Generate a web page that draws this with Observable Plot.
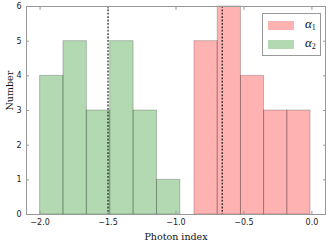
<!DOCTYPE html>
<html>
<head>
<meta charset="utf-8">
<script src="https://cdn.jsdelivr.net/npm/d3@7"></script>
<script src="https://cdn.jsdelivr.net/npm/@observablehq/plot@0.6"></script>
<style>
  body { margin: 0; background: #fff; }
  #wrap { position: relative; width: 330px; height: 245px; }
  #legend { position: absolute; left: 262px; top: 13px; width: 59px; height: 43px; border: 1px solid #999; background: #fff; box-sizing: border-box; font-family: "Liberation Serif", serif; }
  .row { position: absolute; left: 5px; display: flex; align-items: center; }
  .sw { width: 26px; height: 9px; }
  .lab { margin-left: 11px; font-style: italic; font-size: 13px; line-height: 9px; color: #111; }
  .lab sub { font-style: normal; font-size: 8px; vertical-align: -2px; }
</style>
</head>
<body>
<div id="wrap"></div>
<script>
const alpha1Edges = [-0.864, -0.693, -0.522, -0.352, -0.181, -0.01];
const alpha1Counts = [5, 6, 4, 3, 3];
const alpha2Edges = [-2.0, -1.828, -1.656, -1.484, -1.312, -1.140, -0.968];
const alpha2Counts = [4, 5, 3, 5, 3, 1];
const medians = [-1.5, -0.66];
const xTicks = [-2.0, -1.5, -1.0, -0.5, 0.0];
const yTicks = [0, 1, 2, 3, 4, 5, 6];
const seriesNames = ["α1", "α2"];

const bins = (edges, counts, s) => counts.map((c, i) => ({x1: edges[i], x2: edges[i + 1], y: c, s}));
const data = [...bins(alpha2Edges, alpha2Counts, "α2"), ...bins(alpha1Edges, alpha1Counts, "α1")];
const fmt = d => (d < 0 ? "\u2212" : "") + Math.abs(d).toFixed(1);

const chart = Plot.plot({
  width: 330, height: 245,
  marginLeft: 26, marginRight: 5, marginTop: 6, marginBottom: 31,
  style: {fontFamily: "DejaVu Sans, sans-serif", fontSize: "8px", color: "#222", background: "white"},
  x: {domain: [-2.1, 0.1]},
  y: {domain: [0, 6]},
  color: {domain: seriesNames, range: ["red", "green"]},
  marks: [
    Plot.rectY(data, {x1: "x1", x2: "x2", y: "y", fill: "s", fillOpacity: 0.3, stroke: "black", strokeOpacity: 0.22, strokeWidth: 1}),
    Plot.ruleX(medians, {stroke: "black", strokeWidth: 1.1, strokeDasharray: "1.8,1.6"}),
    Plot.frame({stroke: "#999", strokeWidth: 1}),
    Plot.axisX(xTicks, {anchor: "bottom", tickSize: -3, tickPadding: 8, tickFormat: fmt, stroke: "#999", label: null}),
    Plot.axisX(xTicks, {anchor: "top", tickSize: -3, tickFormat: () => "", stroke: "#999", label: null}),
    Plot.axisY(yTicks, {anchor: "left", tickSize: -3, tickPadding: 8, stroke: "#999", label: null}),
    Plot.axisY(yTicks, {anchor: "right", tickSize: -3, tickFormat: () => "", stroke: "#999", label: null}),
    Plot.text(["Photon index"], {frameAnchor: "bottom", dy: 25, fontFamily: "DejaVu Serif, serif", fontSize: 9.5, fill: "#111"}),
    Plot.text(["Number"], {frameAnchor: "left", dx: -17, rotate: -90, fontFamily: "DejaVu Serif, serif", fontSize: 9.5, fill: "#111"})
  ]
});
const wrap = document.getElementById("wrap");
wrap.appendChild(chart);

const legend = document.createElement("div");
legend.id = "legend";
const colors = {"α1": "rgba(255,0,0,0.3)", "α2": "rgba(0,128,0,0.3)"};
seriesNames.forEach((n, i) => {
  const row = document.createElement("div");
  row.className = "row";
  row.style.top = (5 + i * 19) + "px";
  row.innerHTML = `<div class="sw" style="background:${colors[n]}"></div><div class="lab">α<sub>${n.slice(1)}</sub></div>`;
  legend.appendChild(row);
});
wrap.appendChild(legend);
</script>
</body>
</html>
